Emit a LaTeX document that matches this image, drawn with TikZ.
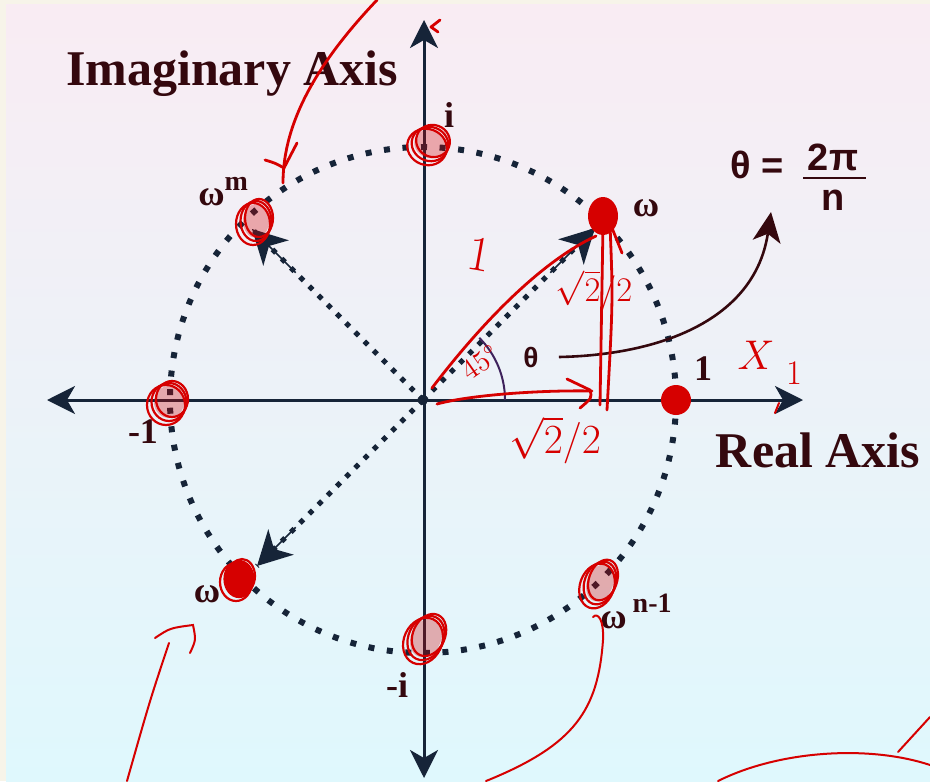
\documentclass[tikz,border=0pt]{standalone}
\usepackage{fontspec}
\setmainfont{Liberation Serif}
\newfontfamily\arialfont{Liberation Sans}
\usetikzlibrary{arrows.meta}

\definecolor{axisblue}{RGB}{22,36,56}
\definecolor{labelbrown}{RGB}{52,8,14}
\definecolor{penred}{RGB}{214,0,0}
\definecolor{anglepurple}{RGB}{62,34,92}
\definecolor{bgcream}{RGB}{247,244,233}
\definecolor{bgpink}{RGB}{249,236,243}
\definecolor{bgcyan}{RGB}{223,248,253}

\tikzset{
  axis/.style={draw=axisblue,line width=1.5pt,
    {Stealth[length=14pt,width=14pt,inset=4pt]}-{Stealth[length=14pt,width=14pt,inset=4pt]}},
  raydots/.style={draw=axisblue,line width=2.5pt,dash pattern=on 2.5pt off 4pt},
  rayhead/.style={draw=axisblue,line width=0.8pt,shorten <=90pt,
    -{Stealth[length=17pt,width=18pt,inset=5pt]}},
  unitcircle/.style={draw=axisblue,line width=3pt,dash pattern=on 3pt off 6.3pt},
  lab/.style={text=labelbrown,font=\fontsize{18}{18}\selectfont\bfseries,inner sep=0pt},
  bigtitle/.style={text=labelbrown,font=\fontsize{25}{25}\selectfont\bfseries,inner sep=0pt},
  formula/.style={text=labelbrown,font=\arialfont\fontsize{19}{19}\selectfont\bfseries,inner sep=0pt},
  pen/.style={draw=penred,line width=1.4pt,line cap=round,line join=round},
  thinpen/.style={draw=penred,line width=1pt,line cap=round},
  hand/.style={text=penred,inner sep=0pt}
}

% red scribble round a marked root
\newcommand{\scribble}[5]{%
  \fill[penred,opacity=.3] (#1,#2) ellipse[x radius=#3-4,y radius=#4-4,rotate=#5];
  \foreach \d in {0,3,6}{
    \draw[pen,line width=1.1pt] (#1+\d-3,#2-\d+3) ellipse[x radius=#3-\d/2,y radius=#4-\d/3,rotate=#5];
  }}

\begin{document}
\begin{tikzpicture}[x=0.5pt,y=-0.5pt]
  \useasboundingbox (0,0) rectangle (930,781);
  \fill[bgcream] (0,0) rectangle (930,781);
  \shade[top color=bgpink,bottom color=bgcyan] (6,5) rectangle (930,781);

  % axes
  \coordinate (O) at (423,400);
  \coordinate (xl) at (47,400);
  \coordinate (xr) at (803,400);
  \coordinate (yt) at (424,20);
  \coordinate (yb) at (424,778);
  \draw[axis] (xl) -- (xr);
  \draw[axis] (yb) -- (yt);

  % unit circle and rays
  \draw[unitcircle] (O) circle (253);
  \coordinate (tw) at (595,228);
  \coordinate (twm) at (252,229);
  \coordinate (twl) at (257,566);
  \foreach \t in {tw,twm,twl}{
    \draw[raydots] (O) -- (\t);
    \draw[rayhead] (O) -- (\t);
  }
  \fill[axisblue] (O) circle (5);

  % angle
  \draw[anglepurple,line width=1pt] (505,400) arc[start angle=0,end angle=-45,radius=88];
  \node[formula,font=\arialfont\fontsize{14}{14}\selectfont\bfseries,anchor=base] (th) at (531,367) {θ};

  % labels
  \node[lab,anchor=base] (li) at (449,127) {i};
  \node[lab,anchor=base] (lw) at (646,216) {ω};
  \node[lab,anchor=base west] (lwm) at (198,205) {ω\raisebox{7.5pt}{\fontsize{14}{14}\selectfont m}};
  \node[lab,anchor=base] (lm1) at (143,443) {-1};
  \node[lab,anchor=base] (lmi) at (397,697) {-i};
  \node[lab,anchor=base] (lwl) at (207,602) {ω};
  \node[lab,anchor=base west] (lwn) at (600,628) {ω\,\raisebox{8pt}{\fontsize{14}{14}\selectfont n-1}};
  \node[lab,anchor=base] (l1) at (703,380) {1};
  \node[bigtitle,anchor=base] (imag) at (232,86) {Imaginary Axis};
  \node[bigtitle,anchor=base] (real) at (818,467) {Real Axis};

  % theta = 2pi/n
  \node[formula,anchor=base west] (teq) at (730,178) {θ =};
  \node[formula,anchor=base] (num) at (833,170) {2π};
  \node[formula,anchor=base] (den) at (833,210) {n};
  \draw[labelbrown,line width=1.3pt] (803,178) -- (866,178);
  \coordinate (thtip) at (771,212);
  \draw[labelbrown,line width=1.3pt,-{Stealth[length=15pt,width=14pt,inset=4pt]}]
    ([xshift=10]th.east) .. controls (660,355) and (755,320) .. (thtip);

  % red handwriting
  \scribble{430}{144}{20}{18}{-20}
  \scribble{256}{221}{17}{21}{0}
  \scribble{169}{402}{19}{20}{0}
  \fill[penred] (239,579) ellipse[x radius=15,y radius=18];
  \scribble{239}{579}{16}{19}{0}
  \scribble{426}{638}{19}{24}{-25}
  \scribble{600}{583}{17}{23}{-20}
  \fill[penred] (676,400) circle (15);
  \fill[penred] (603,216) ellipse[x radius=15,y radius=19];
  \draw[pen] (608,218) -- (622,253);

  \draw[pen] (377,0) .. controls (320,60) and (283,120) .. (283,183);
  \draw[pen] (265,160) .. controls (275,163) .. (284,168) -- (297,143);
  \draw[pen] (440,20) -- (431,27) -- (438,32);

  \draw[pen] (432,388) .. controls (480,325) and (540,262) .. (596,236);
  \draw[pen] (437,404) .. controls (470,395) and (540,390) .. (592,391);
  \draw[pen] (567,379) -- (590,390) .. controls (592,398) .. (580,408);
  \draw[pen] (603,225) -- (600,405);
  \draw[pen] (610,225) .. controls (613,300) .. (607,410);

  \node[hand,font=\fontsize{24}{24}\selectfont,rotate=-10] (r1) at (480,255) {$1$};
  \node[hand,font=\fontsize{19}{19}\selectfont] (rs1) at (594,290) {$\sqrt{2}/2$};
  \node[hand,font=\fontsize{14}{14}\selectfont,rotate=35] (r45) at (480,362) {$45^{\circ}$};
  \node[hand,font=\fontsize{22}{22}\selectfont] (rs2) at (555,440) {$\sqrt{2}/2$};
  \node[hand,font=\fontsize{22}{22}\selectfont] (rx) at (756,355) {$X$};
  \node[hand,font=\fontsize{18}{18}\selectfont] (rx1) at (794,373) {$1$};
  \draw[thinpen] (775,413) -- (779,403);

  \draw[thinpen] (155,638) .. controls (170,628) .. (193,625) .. controls (196,640) .. (190,653);
  \draw[thinpen] (169,643) .. controls (150,700) .. (127,781);
  \draw[thinpen] (593,617) .. controls (598,612) and (604,620) .. (603,640)
    .. controls (598,710) and (575,745) .. (486,781);
  \draw[thinpen] (718,781) .. controls (780,750) and (870,745) .. (930,765);
  \draw[thinpen] (898,752) -- (930,717);
\end{tikzpicture}
\end{document}
